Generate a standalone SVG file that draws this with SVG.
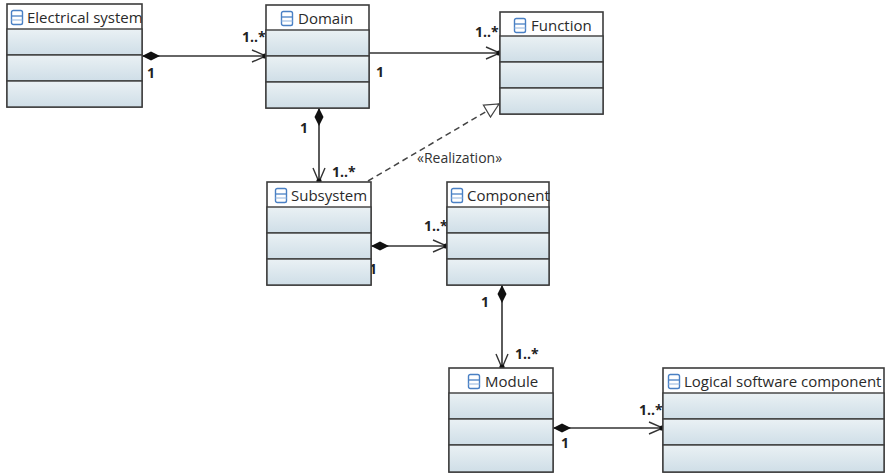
<svg xmlns="http://www.w3.org/2000/svg" width="885" height="473" viewBox="0 0 885 473">
<defs>
<linearGradient id="row" x1="0" y1="0" x2="0" y2="1">
<stop offset="0" stop-color="#eaf1f4"/>
<stop offset="1" stop-color="#cfdee7"/>
</linearGradient>
<marker id="open" viewBox="0 0 16 14" refX="15" refY="7" markerWidth="16" markerHeight="14" markerUnits="userSpaceOnUse" orient="auto">
<path d="M1,1 L15,7 L1,13" fill="none" stroke="#333" stroke-width="1.4"/>
<circle cx="14" cy="7" r="2.6" fill="#111"/>
</marker>
<marker id="diamond" viewBox="0 0 20 10" refX="0" refY="5" markerWidth="20" markerHeight="10" markerUnits="userSpaceOnUse" orient="auto">
<path d="M0,5 L9,0.5 L18,5 L9,9.5 Z" fill="#111"/>
</marker>
<marker id="tri" viewBox="0 0 16 16" refX="15" refY="8" markerWidth="16" markerHeight="16" markerUnits="userSpaceOnUse" orient="auto">
<path d="M1,1 L15,8 L1,15 Z" fill="#fff" stroke="#444" stroke-width="1.2"/>
</marker>
<g id="icon">
<rect x="0.5" y="0.5" width="11" height="14" rx="1.8" fill="#fff" stroke="#4a80c4" stroke-width="1.4"/>
<line x1="0.5" y1="6" x2="11.5" y2="6" stroke="#4a80c4" stroke-width="1.3"/>
<line x1="0.5" y1="10" x2="11.5" y2="10" stroke="#9bbbe0" stroke-width="1.1"/>
</g>
</defs>
<style>
.box{fill:#fff;stroke:#3c3c3c;stroke-width:1.6}
.rowf{fill:url(#row);stroke:#3c3c3c;stroke-width:1.4}
.title{font-family:"Open Sans","Noto Sans",sans-serif;font-size:15px;fill:#2a2a2a}
.lbl{font-family:"Open Sans","Noto Sans",sans-serif;font-size:14px;font-weight:bold;fill:#222}
.rel{font-family:"Open Sans","Noto Sans",sans-serif;font-size:14px;fill:#333}
.ln{fill:none;stroke:#333;stroke-width:1.6}
.dash{fill:none;stroke:#444;stroke-width:1.5;stroke-dasharray:6,4}
</style>

<g id="connectors">
<line class="ln" x1="142" y1="56" x2="266" y2="56" marker-start="url(#diamond)" marker-end="url(#open)"/>
<text class="lbl" x="147" y="78">1</text>
<text class="lbl" x="242" y="42">1..*</text>

<line class="ln" x1="369" y1="53" x2="500" y2="53" marker-end="url(#open)"/>
<text class="lbl" x="376" y="77">1</text>
<text class="lbl" x="475" y="37">1..*</text>

<line class="ln" x1="319" y1="108" x2="319" y2="182" marker-start="url(#diamond)" marker-end="url(#open)"/>
<text class="lbl" x="300" y="133">1</text>
<text class="lbl" x="332" y="177">1..*</text>

<line class="dash" x1="368" y1="181" x2="499" y2="104" marker-end="url(#tri)"/>
<text class="rel" x="417" y="163">«Realization»</text>

<line class="ln" x1="371" y1="246" x2="447" y2="246" marker-start="url(#diamond)" marker-end="url(#open)"/>
<text class="lbl" x="369" y="274">1</text>
<text class="lbl" x="424" y="231">1..*</text>

<line class="ln" x1="502" y1="285" x2="502" y2="368" marker-start="url(#diamond)" marker-end="url(#open)"/>
<text class="lbl" x="481" y="307">1</text>
<text class="lbl" x="515" y="359">1..*</text>

<line class="ln" x1="553" y1="428" x2="663" y2="428" marker-start="url(#diamond)" marker-end="url(#open)"/>
<text class="lbl" x="561" y="448">1</text>
<text class="lbl" x="639" y="415">1..*</text>
</g>

<g id="electrical-system">
<rect class="box" x="7" y="4" width="135" height="103"/>
<rect class="rowf" x="7" y="29" width="135" height="26"/>
<rect class="rowf" x="7" y="55" width="135" height="26"/>
<rect class="rowf" x="7" y="81" width="135" height="26"/>
<use href="#icon" x="11" y="10"/>
<text class="title" x="27" y="23">Electrical system</text>
</g>

<g id="domain">
<rect class="box" x="266" y="5" width="103" height="103"/>
<rect class="rowf" x="266" y="30" width="103" height="26"/>
<rect class="rowf" x="266" y="56" width="103" height="26"/>
<rect class="rowf" x="266" y="82" width="103" height="26"/>
<use href="#icon" x="281" y="11"/>
<text class="title" x="298" y="24">Domain</text>
</g>

<g id="function">
<rect class="box" x="500" y="12" width="103" height="102"/>
<rect class="rowf" x="500" y="36" width="103" height="26"/>
<rect class="rowf" x="500" y="62" width="103" height="26"/>
<rect class="rowf" x="500" y="88" width="103" height="26"/>
<use href="#icon" x="514" y="18"/>
<text class="title" x="531" y="31">Function</text>
</g>

<g id="subsystem">
<rect class="box" x="267" y="182" width="104" height="103"/>
<rect class="rowf" x="267" y="207" width="104" height="26"/>
<rect class="rowf" x="267" y="233" width="104" height="26"/>
<rect class="rowf" x="267" y="259" width="104" height="26"/>
<use href="#icon" x="275" y="188"/>
<text class="title" x="291" y="201">Subsystem</text>
</g>

<g id="component">
<rect class="box" x="447" y="182" width="102" height="103"/>
<rect class="rowf" x="447" y="207" width="102" height="26"/>
<rect class="rowf" x="447" y="233" width="102" height="26"/>
<rect class="rowf" x="447" y="259" width="102" height="26"/>
<use href="#icon" x="451" y="188"/>
<text class="title" x="467" y="201">Component</text>
</g>

<g id="module">
<rect class="box" x="449" y="368" width="104" height="104"/>
<rect class="rowf" x="449" y="393" width="104" height="26"/>
<rect class="rowf" x="449" y="419" width="104" height="26"/>
<rect class="rowf" x="449" y="445" width="104" height="27"/>
<use href="#icon" x="468" y="374"/>
<text class="title" x="485" y="387">Module</text>
</g>

<g id="logical-software-component">
<rect class="box" x="663" y="368" width="221" height="104"/>
<rect class="rowf" x="663" y="393" width="221" height="26"/>
<rect class="rowf" x="663" y="419" width="221" height="26"/>
<rect class="rowf" x="663" y="445" width="221" height="27"/>
<use href="#icon" x="668" y="374"/>
<text class="title" x="684" y="387">Logical software component</text>
</g>
</svg>
